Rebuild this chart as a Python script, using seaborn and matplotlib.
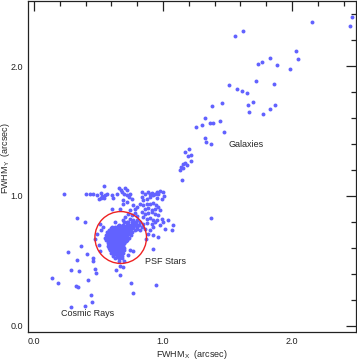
import matplotlib
matplotlib.use("Agg")
import matplotlib.pyplot as plt
from matplotlib.patches import Circle
from matplotlib.ticker import MultipleLocator
import numpy as np
import pandas as pd
import seaborn as sns

# Galaxies (extended diagonal sequence)
gal_x = [2.465, 2.45, 2.155, 1.558, 1.623, 2.028, 2.049, 1.982, 1.827, 1.767,
         1.736, 1.886, 1.723, 1.863, 1.512, 1.571, 1.615, 1.654, 1.455, 1.382,
         1.661, 1.698, 1.868, 1.832, 1.777, 1.669, 1.328, 1.253, 1.302, 1.362,
         1.390, 1.440, 1.471, 1.328, 1.333, 1.374, 1.199, 1.173, 1.194, 1.217,
         1.173, 1.188, 1.217, 1.153, 1.142, 1.157, 1.132, 1.147, 1.374]
gal_y = [2.382, 2.313, 2.342, 2.231, 2.269, 2.121, 2.057, 1.980, 2.067, 2.031,
         2.015, 2.011, 1.885, 1.862, 1.852, 1.823, 1.813, 1.792, 1.718, 1.695,
         1.705, 1.721, 1.700, 1.667, 1.631, 1.646, 1.603, 1.531, 1.549, 1.559,
         1.565, 1.577, 1.495, 1.444, 1.413, 1.400, 1.359, 1.338, 1.308, 1.313,
         1.257, 1.241, 1.267, 1.249, 1.223, 1.215, 1.203, 1.126, 0.828]

# Upper band near FWHM_Y ~ 1 and the streak toward the stars
band_x = [0.235, 0.403, 0.434, 0.460, 0.491, 0.517, 0.530, 0.543, 0.550, 0.563,
          0.506, 0.522, 0.543, 0.605, 0.615, 0.661, 0.672, 0.705, 0.718, 0.646,
          0.680, 0.698, 0.718, 0.744, 0.734, 0.693, 0.687, 0.718, 0.757, 0.770,
          0.783, 0.796, 0.744, 0.602, 0.667, 0.398, 0.517, 0.491, 0.473, 0.563,
          0.331,
          0.835, 0.860, 0.886, 0.899, 0.912, 0.925, 0.938, 0.951, 0.964, 0.977,
          0.997, 1.008, 0.990, 0.951, 0.899, 0.873, 0.848, 0.835, 0.822, 0.848,
          0.873, 0.899, 0.925, 0.946, 0.860, 0.886, 0.912, 0.938, 0.964, 0.977,
          0.835, 0.860, 0.886, 0.912, 0.938, 0.964, 0.848, 0.873, 0.899, 0.925,
          0.951, 0.990, 0.822, 0.848, 0.873, 0.912, 0.938, 0.977, 1.003, 1.041,
          1.080, 1.067, 1.016, 0.925, 0.899, 0.860, 0.886, 0.925, 0.964, 0.868,
          0.835,
          0.731, 0.757, 0.783, 0.801, 0.744, 0.770, 0.796, 0.718, 0.757, 0.783,
          0.809, 0.731, 0.705, 0.693, 0.770, 0.796, 0.822, 0.628, 0.512, 0.537,
          0.602]
band_y = [1.013, 1.013, 1.013, 1.018, 1.005, 1.023, 0.997, 1.074, 1.005, 1.018,
          0.979, 0.987, 0.987, 1.005, 0.987, 1.064, 1.049, 1.064, 1.044, 1.018,
          1.031, 1.013, 1.005, 1.013, 0.992, 0.967, 0.941, 0.954, 0.979, 0.928,
          0.903, 0.915, 0.895, 0.903, 0.903, 0.800, 0.736, 0.705, 0.672, 0.723,
          0.831,
          1.031, 1.018, 1.031, 1.013, 1.023, 1.005, 1.018, 1.031, 1.018, 1.038,
          1.031, 0.997, 0.979, 0.987, 0.992, 0.979, 0.967, 0.992, 0.941, 0.928,
          0.941, 0.936, 0.946, 0.928, 0.903, 0.910, 0.895, 0.903, 0.915, 0.890,
          0.877, 0.864, 0.869, 0.877, 0.864, 0.851, 0.838, 0.826, 0.833, 0.818,
          0.813, 0.826, 0.800, 0.787, 0.792, 0.787, 0.800, 0.774, 0.800, 0.818,
          0.774, 0.741, 0.749, 0.762, 0.736, 0.749, 0.710, 0.697, 0.685, 0.672,
          0.762,
          0.864, 0.851, 0.869, 0.844, 0.826, 0.813, 0.818, 0.800, 0.787, 0.792,
          0.774, 0.774, 0.838, 0.813, 0.762, 0.749, 0.736, 0.800, 0.787, 0.762,
          0.762]

# Scattered small / faint sources (cosmic rays and noise)
low_x = [0.137, 0.186, 0.264, 0.287, 0.351, 0.362, 0.408, 0.336, 0.455, 0.455,
         0.420, 0.323, 0.339, 0.442, 0.447, 0.398, 0.284, 0.749, 0.765, 0.946,
         0.636, 0.667, 0.693, 0.744, 0.765, 0.731, 0.667, 0.473, 0.481, 0.501,
         0.512, 0.925]
low_y = [0.369, 0.326, 0.569, 0.433, 0.421, 0.615, 0.556, 0.503, 0.525, 0.497,
         0.355, 0.310, 0.300, 0.236, 0.185, 0.151, 0.146, 0.326, 0.254, 0.313,
         0.428, 0.459, 0.454, 0.582, 0.577, 0.544, 0.390, 0.441, 0.403, 0.621,
         0.574, 0.595]

# PSF star clump, read row by row (FWHM_Y level -> FWHM_X values)
psf_row_y = [0.80, 0.78, 0.76, 0.75, 0.74, 0.73, 0.72, 0.71, 0.70, 0.69,
             0.68, 0.67, 0.66, 0.65, 0.64, 0.63, 0.62, 0.61, 0.60, 0.58,
             0.56, 0.54, 0.52, 0.50]
psf_row_x = [
    [0.70, 0.73, 0.76, 0.79],
    [0.66, 0.69, 0.72, 0.75, 0.78, 0.81],
    [0.63, 0.66, 0.68, 0.70, 0.72, 0.74, 0.77, 0.80],
    [0.60, 0.64, 0.67, 0.69, 0.71, 0.73, 0.76],
    [0.58, 0.62, 0.65, 0.67, 0.69, 0.71, 0.74, 0.78],
    [0.60, 0.63, 0.65, 0.66, 0.68, 0.70, 0.72],
    [0.57, 0.61, 0.63, 0.64, 0.66, 0.67, 0.69, 0.71, 0.73, 0.76],
    [0.59, 0.62, 0.64, 0.65, 0.67, 0.68, 0.70, 0.72],
    [0.56, 0.60, 0.62, 0.63, 0.65, 0.66, 0.67, 0.69, 0.70, 0.72, 0.75],
    [0.58, 0.61, 0.63, 0.64, 0.66, 0.67, 0.68, 0.70, 0.71],
    [0.55, 0.59, 0.61, 0.62, 0.64, 0.65, 0.66, 0.68, 0.69, 0.71, 0.74],
    [0.57, 0.60, 0.62, 0.63, 0.65, 0.66, 0.67, 0.69, 0.70],
    [0.56, 0.59, 0.61, 0.63, 0.64, 0.66, 0.67, 0.68, 0.70, 0.72],
    [0.58, 0.60, 0.62, 0.64, 0.65, 0.67, 0.68, 0.69],
    [0.57, 0.60, 0.62, 0.63, 0.65, 0.66, 0.68, 0.70],
    [0.59, 0.61, 0.63, 0.64, 0.66, 0.67, 0.69],
    [0.58, 0.60, 0.62, 0.64, 0.65, 0.67, 0.68],
    [0.59, 0.61, 0.63, 0.65, 0.66, 0.68],
    [0.58, 0.60, 0.62, 0.64, 0.66, 0.67, 0.70],
    [0.59, 0.62, 0.64, 0.66, 0.68],
    [0.60, 0.63, 0.65, 0.67, 0.69],
    [0.61, 0.64, 0.66, 0.68],
    [0.63, 0.66, 0.68],
    [0.66, 0.70],
]

# Extra densely packed stars in the core of the clump (in-between rows)
core_row_y = [0.765, 0.745, 0.725, 0.705, 0.685, 0.675, 0.655, 0.635, 0.615,
              0.595, 0.585, 0.570, 0.550, 0.530]
core_row_x = [
    [0.65, 0.675, 0.695, 0.715, 0.735, 0.755],
    [0.615, 0.635, 0.655, 0.68, 0.70, 0.72, 0.75],
    [0.59, 0.62, 0.645, 0.655, 0.675, 0.695, 0.715, 0.745],
    [0.58, 0.61, 0.635, 0.645, 0.655, 0.675, 0.685, 0.705, 0.73],
    [0.57, 0.60, 0.625, 0.635, 0.655, 0.675, 0.695, 0.715],
    [0.585, 0.615, 0.64, 0.66, 0.68, 0.70, 0.725],
    [0.575, 0.605, 0.625, 0.645, 0.655, 0.675, 0.695, 0.71],
    [0.585, 0.615, 0.635, 0.655, 0.675, 0.695],
    [0.575, 0.605, 0.625, 0.645, 0.665, 0.69],
    [0.59, 0.615, 0.635, 0.655, 0.675],
    [0.605, 0.63, 0.65, 0.67, 0.695],
    [0.61, 0.635, 0.655, 0.675],
    [0.62, 0.645, 0.67],
    [0.645, 0.675],
]

# PSF selection circle
circle_center = (0.672, 0.68)
circle_radius = 0.2

psf_x = [x for row in psf_row_x + core_row_x for x in row]
psf_y = [y for y, row in zip(psf_row_y + core_row_y, psf_row_x + core_row_x)
         for _ in row]

df = pd.DataFrame({
    "fwhm_x": gal_x + band_x + low_x + psf_x,
    "fwhm_y": gal_y + band_y + low_y + psf_y,
})

sns.set_theme(style="white")
plt.rcParams["font.family"] = ["Liberation Sans", "DejaVu Sans"]
plt.rcParams["mathtext.fontset"] = "custom"
plt.rcParams["mathtext.rm"] = "Liberation Sans"

fig = plt.figure(figsize=(3.57, 3.62), dpi=100)
ax = fig.add_axes([0.0784, 0.083, 0.9186, 0.915])

sns.scatterplot(data=df, x="fwhm_x", y="fwhm_y", ax=ax, color="#6262ff",
                s=8, linewidth=0, marker="o")

ax.add_patch(Circle(circle_center, circle_radius, fill=False,
                    edgecolor="#ee2222", linewidth=1.0))

ax.set_xlim(-0.047, 2.496)
ax.set_ylim(-0.048, 2.505)
ax.xaxis.set_major_locator(MultipleLocator(1.0))
ax.xaxis.set_minor_locator(MultipleLocator(0.2))
ax.yaxis.set_major_locator(MultipleLocator(1.0))
ax.yaxis.set_minor_locator(MultipleLocator(0.2))
ax.xaxis.set_major_formatter(lambda v, p: f"{v:.1f}")
ax.yaxis.set_major_formatter(lambda v, p: f"{v:.1f}")
ax.tick_params(which="both", direction="in", top=True, right=True,
               colors="#222222", labelsize=6.5, width=0.9)
ax.tick_params(which="major", length=7, pad=3.5)
ax.tick_params(which="minor", length=3.5)
for sp in ax.spines.values():
    sp.set_color("#222222")
    sp.set_linewidth(0.9)

ax.set_xlabel(r"FWHM$_\mathregular{X}$  (arcsec)", fontsize=6.5)
ax.set_ylabel(r"FWHM$_\mathregular{Y}$  (arcsec)", fontsize=6.5)
ax.xaxis.set_label_coords(0.5, -0.048)
ax.yaxis.set_label_coords(-0.050, 0.525)

ax.text(1.506, 1.398, "Galaxies", fontsize=6.5, va="center", ha="left")
ax.text(0.860, 0.498, "PSF Stars", fontsize=6.5, va="center", ha="left")
ax.text(0.207, 0.095, "Cosmic Rays", fontsize=6.5, va="center", ha="left")

fig.savefig("out.png", dpi=100)
